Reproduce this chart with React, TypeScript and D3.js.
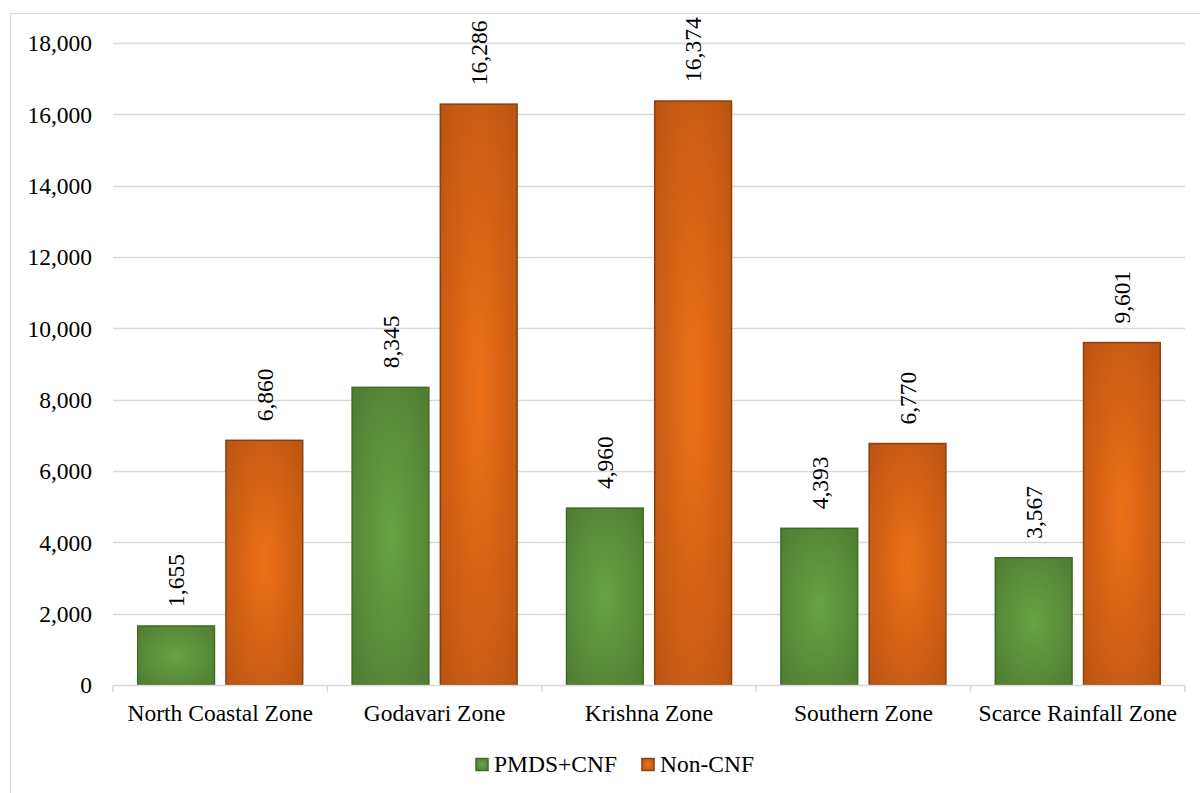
import React, { useEffect, useRef } from "react";
import * as d3 from "d3";

const zones = ["North Coastal Zone", "Godavari Zone", "Krishna Zone", "Southern Zone", "Scarce Rainfall Zone"];
const seriesNames = ["PMDS+CNF", "Non-CNF"];
const pmdsCnf = [1655, 8345, 4960, 4393, 3567];
const nonCnf = [6860, 16286, 16374, 6770, 9601];
const yTicks = [0, 2000, 4000, 6000, 8000, 10000, 12000, 14000, 16000, 18000];

const fills = [
  { id: "gGreen", center: "#67a343", edge: "#4f7c32", stroke: "#43692b" },
  { id: "gOrange", center: "#ee7018", edge: "#ba5412", stroke: "#8a400f" },
];

export default function App() {
  const ref = useRef<SVGSVGElement>(null);

  useEffect(() => {
    const svg = d3.select(ref.current);
    svg.selectAll("*").remove();

    const width = 1200;
    const height = 793;
    const margin = { top: 43, right: 15, bottom: 108, left: 113 };
    const font = "'Liberation Serif', 'Times New Roman', serif";
    const fs = 23.5;

    svg.attr("width", width).attr("height", height)
      .style("font-family", font).attr("font-size", fs);

    const defs = svg.append("defs");
    fills.forEach(f => {
      const g = defs.append("radialGradient").attr("id", f.id).attr("cx", "50%").attr("cy", "50%").attr("r", "70%");
      g.append("stop").attr("offset", "0%").attr("stop-color", f.center);
      g.append("stop").attr("offset", "100%").attr("stop-color", f.edge);
    });

    // chart border
    svg.append("rect")
      .attr("x", 10.5).attr("y", 13.5)
      .attr("width", 1200).attr("height", 800)
      .attr("fill", "white").attr("stroke", "#d9d9d9");

    const x = d3.scaleBand()
      .domain(zones)
      .range([margin.left, width - margin.right]);

    const xInner = d3.scaleBand()
      .domain(seriesNames)
      .range([0, x.bandwidth()])
      .paddingInner(0.13)
      .paddingOuter(0.28);

    const y = d3.scaleLinear()
      .domain([0, 18000])
      .range([height - margin.bottom, margin.top]);

    // gridlines
    svg.append("g")
      .selectAll("line")
      .data(yTicks.slice(1))
      .enter()
      .append("line")
      .attr("x1", margin.left).attr("x2", width - margin.right)
      .attr("y1", d => Math.round(y(d)) + 0.5).attr("y2", d => Math.round(y(d)) + 0.5)
      .attr("stroke", "#d9d9d9").attr("stroke-width", 1.5);

    // Y axis labels
    svg.append("g")
      .selectAll("text")
      .data(yTicks)
      .enter()
      .append("text")
      .attr("x", 92)
      .attr("y", d => y(d))
      .attr("dy", "0.35em")
      .attr("text-anchor", "end")
      .attr("fill", "#000")
      .text(d => d3.format(",")(d));

    const groups = svg.append("g")
      .selectAll("g")
      .data(zones)
      .enter()
      .append("g")
      .attr("transform", d => `translate(${x(d)},0)`);

    const values = [pmdsCnf, nonCnf];
    seriesNames.forEach((s, si) => {
      groups.append("rect")
        .attr("x", () => xInner(s)!)
        .attr("y", (_, i) => y(values[si][i]))
        .attr("width", xInner.bandwidth())
        .attr("height", (_, i) => y(0) - y(values[si][i]))
        .attr("fill", `url(#${fills[si].id})`)
        .attr("stroke", fills[si].stroke)
        .attr("stroke-width", 1.5);

      groups.append("text")
        .attr("transform", (_, i) =>
          `translate(${xInner(s)! + xInner.bandwidth() / 2},${y(values[si][i]) - 19}) rotate(-90)`)
        .attr("dy", "0.35em")
        .attr("text-anchor", "start")
        .attr("fill", "#000")
        .text((_, i) => d3.format(",")(values[si][i]));
    });

    // X axis
    const base = Math.round(y(0)) + 0.5;
    svg.append("line")
      .attr("x1", margin.left).attr("x2", width - margin.right)
      .attr("y1", base).attr("y2", base)
      .attr("stroke", "#d9d9d9").attr("stroke-width", 1.5);

    svg.append("g")
      .selectAll("line")
      .data([...zones.map(z => x(z)!), width - margin.right])
      .enter()
      .append("line")
      .attr("x1", d => d).attr("x2", d => d)
      .attr("y1", base).attr("y2", base + 7)
      .attr("stroke", "#d9d9d9").attr("stroke-width", 1.5);

    svg.append("g")
      .selectAll("text")
      .data(zones)
      .enter()
      .append("text")
      .attr("x", d => x(d)! + x.bandwidth() / 2)
      .attr("y", 721)
      .attr("text-anchor", "middle")
      .attr("fill", "#000")
      .text(d => d);

    // legend
    const legendItems = [
      { name: seriesNames[0], x: 476 },
      { name: seriesNames[1], x: 642 },
    ];
    const legend = svg.append("g");
    legendItems.forEach((item, i) => {
      legend.append("rect")
        .attr("x", item.x).attr("y", 758.5)
        .attr("width", 12).attr("height", 12)
        .attr("fill", `url(#${fills[i].id})`)
        .attr("stroke", fills[i].stroke)
        .attr("stroke-width", 1.5);
      legend.append("text")
        .attr("x", item.x + 18).attr("y", 772)
        .attr("fill", "#000")
        .text(item.name);
    });
  }, []);

  return (
    <div style={{ position: "absolute", left: 0, top: 0 }}>
      <svg ref={ref}></svg>
    </div>
  );
}
